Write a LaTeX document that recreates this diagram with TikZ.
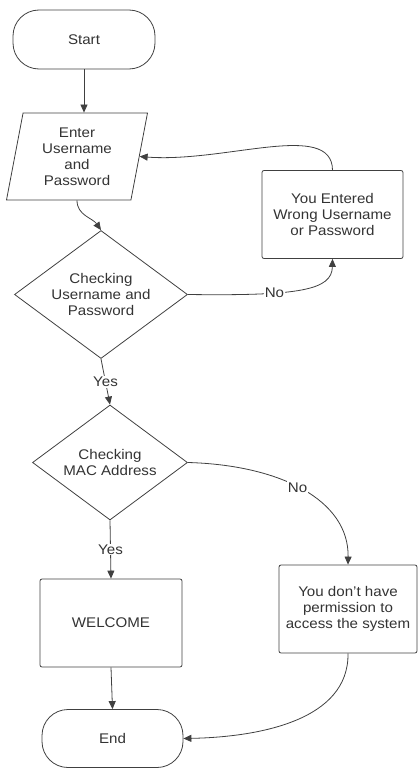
\documentclass[tikz,border=0pt]{standalone}
\usepackage{fontspec}
\setsansfont{Liberation Sans}[FakeStretch=1.08]
\usetikzlibrary{shapes.geometric,arrows.meta}
\begin{document}
\begin{tikzpicture}[x=1pt,y=-1pt,font=\sffamily\fontsize{14}{16}\selectfont,
	every node/.style={text=black!80,align=center},
	term/.style={draw=black!75,line width=0.8pt,rounded corners=26pt,minimum width=142pt,minimum height=59pt},
	io/.style={draw=black!75,line width=0.8pt,trapezium,trapezium left angle=74,trapezium right angle=106,
		trapezium stretches body,minimum width=141pt,minimum height=87pt,inner sep=0pt},
	dec/.style={draw=black!75,line width=0.8pt,diamond,aspect=1.35,inner sep=0pt},
	proc/.style={draw=black!75,line width=0.8pt,rounded corners=2pt,minimum height=88pt,inner sep=2pt},
	lbl/.style={fill=white,inner sep=1pt},
	arr/.style={-{Triangle[length=8pt,width=7pt]},draw=black!75,line width=0.8pt}]
	\useasboundingbox (0,0) rectangle (418,768);
	% shapes
	\node[term] (start) at (84,39.5) {Start};
	\node[io] (enter) at (77,156.5) {Enter\\Username\\and\\Password};
	\node[dec,minimum width=173pt,minimum height=128pt] (chk1) at (101,294.5) {Checking\\Username and\\Password};
	\node[proc,minimum width=141pt] (wrong) at (332.5,214.5) {You Entered\\Wrong Username\\or Password};
	\node[dec,minimum width=155pt,minimum height=115pt] (chk2) at (110,462.5) {Checking\\MAC Address};
	\node[proc,minimum width=142pt] (welcome) at (111,623) {WELCOME};
	\node[proc,minimum width=138pt] (deny) at (348,609) {You don't have\\permission to\\access the system};
	\node[term,minimum width=141pt,minimum height=58pt] (end) at (112.5,738.5) {End};
	% connectors
	\draw[arr] (start.south) -- (start.south |- enter.north);
	\draw[arr] (enter.south) to[out=-90,in=125] (chk1.north);
	\draw[arr] (wrong.north) .. controls (332,120) and (225,163) .. (enter.east);
	\draw[arr] (chk1.east) .. controls (300,296) and (332,290) .. (wrong.south) node[lbl,pos=0.33] {No};
	\draw[arr] (chk1.south) -- node[lbl] {Yes} (chk2.north);
	\draw[arr] (chk2.east) .. controls (280,465) and (349,500) .. (deny.north) node[lbl,pos=0.47] {No};
	\draw[arr] (chk2.south) -- node[lbl] {Yes} (welcome.north);
	\draw[arr] (welcome.south) -- (end.north);
	\draw[arr] (deny.south) .. controls (349,720) and (260,737) .. (end.east);
\end{tikzpicture}
\end{document}
